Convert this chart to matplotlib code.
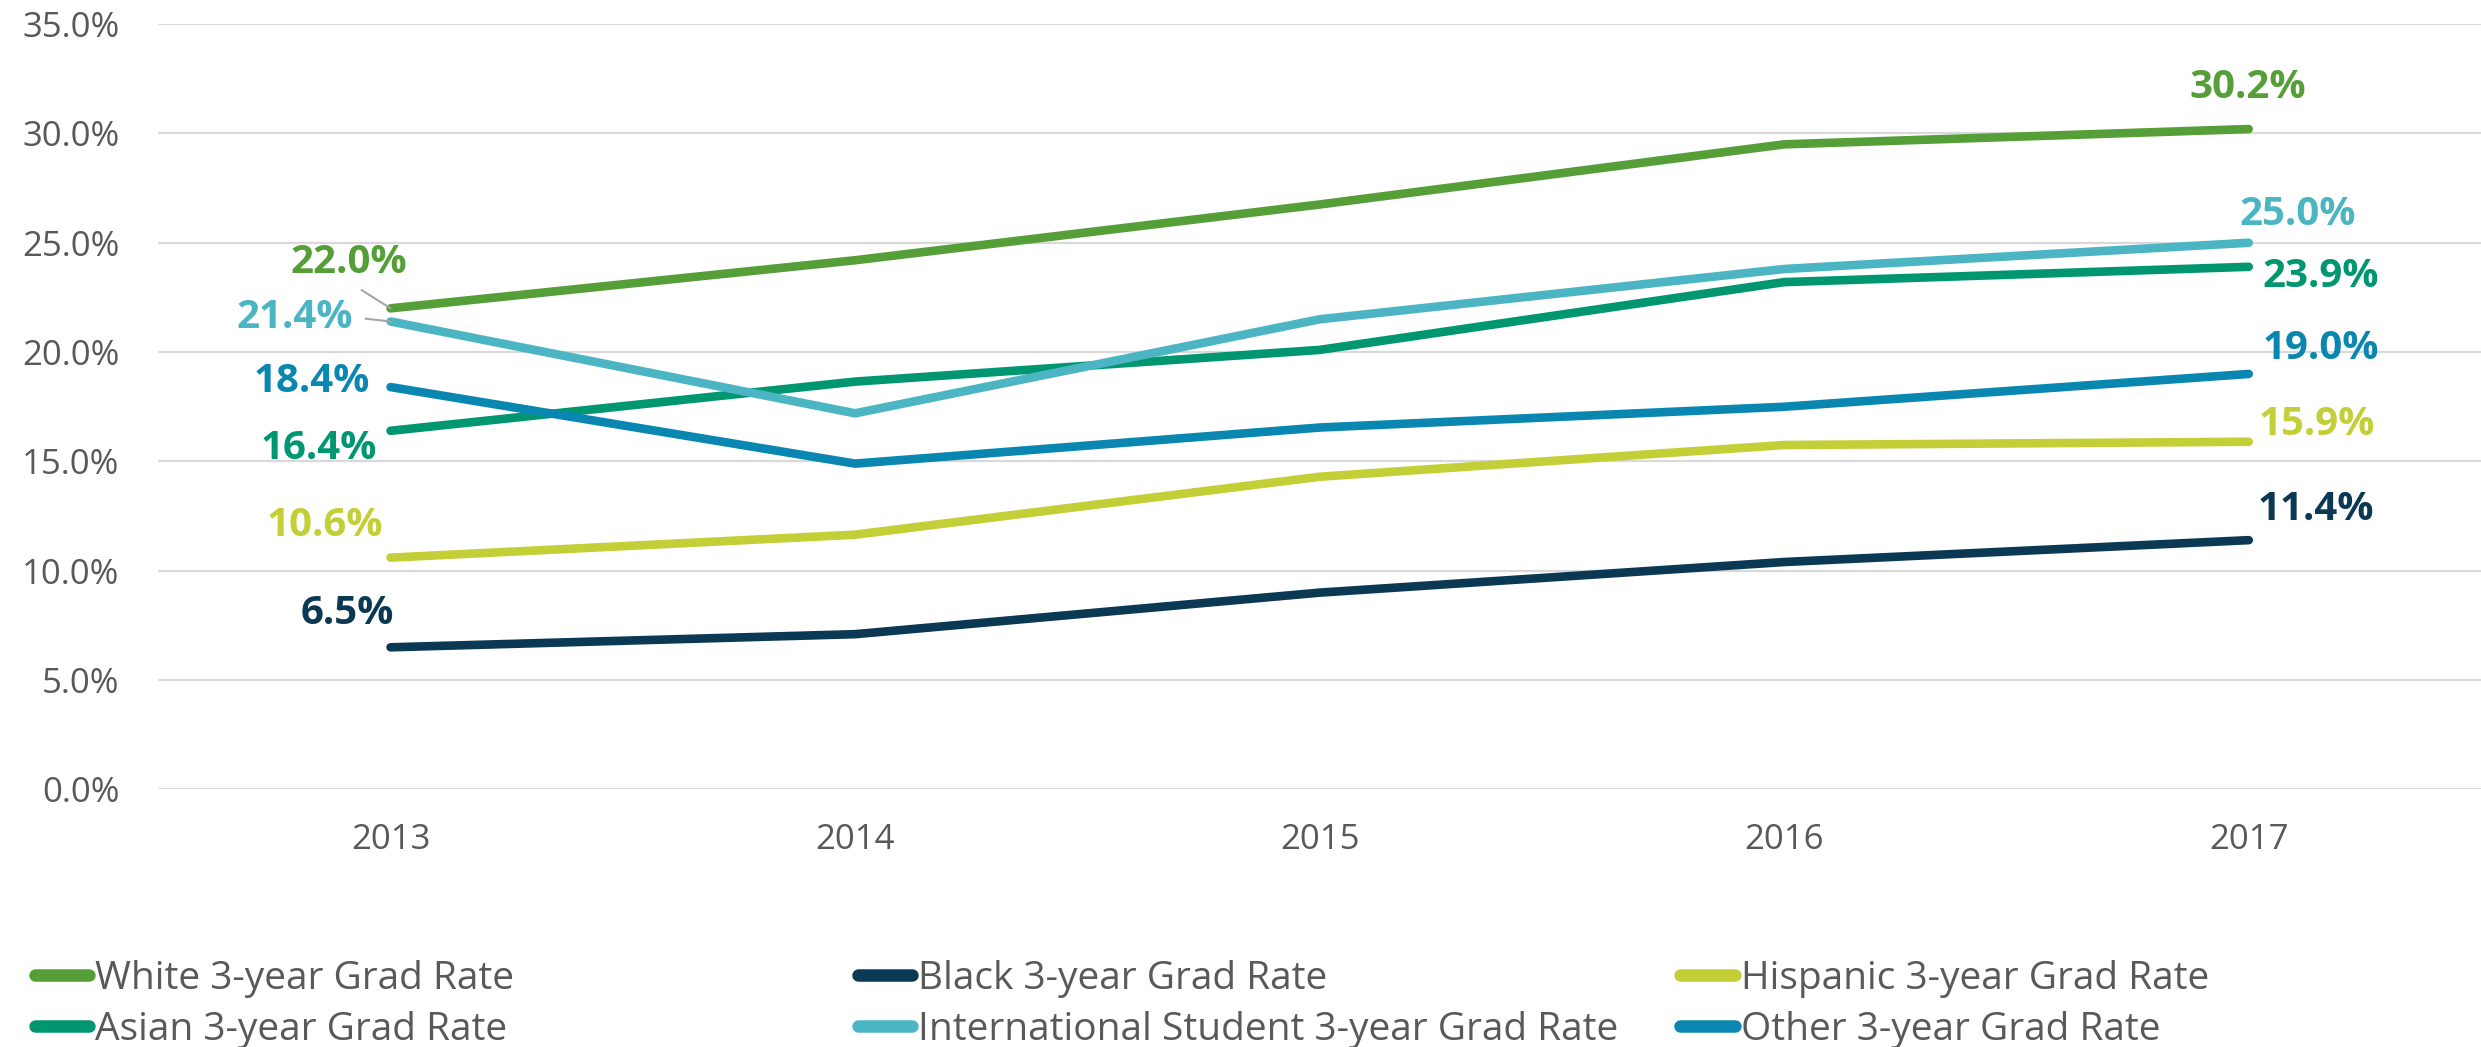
import matplotlib
matplotlib.use("Agg")
import matplotlib.pyplot as plt
from matplotlib.lines import Line2D
from matplotlib.ticker import FuncFormatter

years = ["2013", "2014", "2015", "2016", "2017"]
white = [22.0, 24.2, 26.75, 29.5, 30.2]
black = [6.5, 7.1, 9.0, 10.4, 11.4]
hispanic = [10.6, 11.65, 14.3, 15.75, 15.9]
asian = [16.4, 18.65, 20.1, 23.2, 23.9]
international = [21.4, 17.2, 21.5, 23.8, 25.0]
other = [18.4, 14.9, 16.55, 17.5, 19.0]

names = ["White 3-year Grad Rate", "Black 3-year Grad Rate", "Hispanic 3-year Grad Rate",
         "Asian 3-year Grad Rate", "International Student 3-year Grad Rate", "Other 3-year Grad Rate"]
series = [white, black, hispanic, asian, international, other]
colors = ["#559E38", "#0B3954", "#C2CF37", "#009670", "#4BB5C4", "#0A87B0"]

# label offsets in points (first point, last point)
first_off = [(-30, 33), (-31, 24), (-47, 23), (-52, -12.5), (-69, 3), (-57, 4)]
last_off = [(-1, 30), (48, 22), (49, 12.5), (52, -7), (35, 20), (52, 18.5)]
leader_relpos = [(0.5, 0.0), None, None, None, (1.0, 0.5), None]

plt.rcParams['font.family'] = ['Open Sans', 'DejaVu Sans']

fig = plt.figure(figsize=(24.81, 10.47), dpi=100)
ax = fig.add_axes([0.0638, 0.246, 0.9362, 0.731])

x = list(range(len(years)))
handles = []
for name, vals, c in zip(names, series, colors):
    ax.plot(x, vals, color=c, lw=6.2, solid_capstyle='round', solid_joinstyle='round', zorder=3)
    handles.append(Line2D([0], [0], color=c, lw=9, solid_capstyle='round'))

for vals, c, fo, lo, rp in zip(series, colors, first_off, last_off, leader_relpos):
    kw = dict(textcoords='offset points', ha='center', va='center', fontsize=29,
              fontweight='bold', color=c, zorder=4)
    if rp is not None:
        ax.annotate(f"{vals[0]:.1f}%", (0, vals[0]), xytext=fo,
                    arrowprops=dict(arrowstyle='-', color='#A6A6A6', lw=1.5,
                                    relpos=rp, shrinkA=7, shrinkB=0), **kw)
    else:
        ax.annotate(f"{vals[0]:.1f}%", (0, vals[0]), xytext=fo, **kw)
    ax.annotate(f"{vals[-1]:.1f}%", (4, vals[-1]), xytext=lo, **kw)

ax.set_xlim(-0.5, 4.5)
ax.set_ylim(0, 35)
ax.set_yticks([0, 5, 10, 15, 20, 25, 30, 35])
ax.yaxis.set_major_formatter(FuncFormatter(lambda v, p: f"{v:.1f}%"))
ax.set_xticks(x)
ax.set_xticklabels(years)
ax.tick_params(axis='both', length=0, labelsize=25, labelcolor='#595959')
ax.tick_params(axis='y', pad=28)
ax.tick_params(axis='x', pad=24)
ax.grid(axis='y', color='#D9D9D9', lw=1.6)
ax.set_axisbelow(True)
for s in ax.spines.values():
    s.set_visible(False)

# legend: three equal-width columns
col_x = [0.014, 0.3457, 0.6773]
for i in range(3):
    hs = [handles[i], handles[i + 3]]
    ls = [names[i], names[i + 3]]
    fig.legend(hs, ls, loc='upper left', bbox_to_anchor=(col_x[i], 0.083),
               frameon=False, fontsize=28, labelcolor='#595959',
               handlelength=1.4, handletextpad=0.15, labelspacing=0.33,
               borderaxespad=0, borderpad=0)

fig.savefig("out.png", dpi=100)
